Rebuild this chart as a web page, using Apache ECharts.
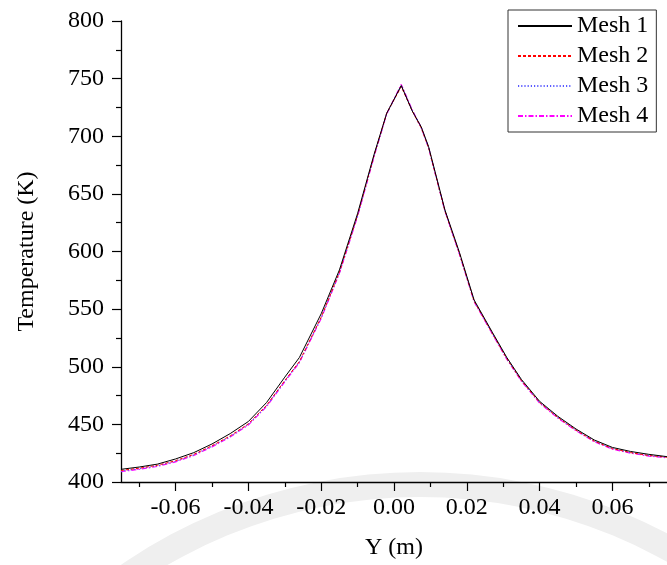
<!DOCTYPE html>
<html>
<head>
<meta charset="utf-8">
<script src="https://cdn.jsdelivr.net/npm/echarts@6/dist/echarts.min.js"></script>
<style>
  html, body { margin: 0; padding: 0; background: #ffffff; }
  #chart { width: 667px; height: 565px; }
</style>
</head>
<body>
<div id="chart"></div>
<script>
// Sampling positions across the domain, Y (m)
const positions = [-0.075, -0.07, -0.065, -0.06, -0.055, -0.05, -0.045, -0.04, -0.035, -0.03,
  -0.026, -0.02, -0.015, -0.01, -0.0055, -0.002, 0.002, 0.005, 0.0075, 0.0095,
  0.014, 0.018, 0.022, 0.027, 0.031, 0.035, 0.04, 0.045, 0.05, 0.055,
  0.06, 0.065, 0.07, 0.075];

// Temperature profiles (K) for each mesh
const mesh1 = [411, 413, 415.5, 420, 425.5, 433, 442, 452.5, 469, 491,
  508, 546, 584, 633, 684, 720, 744, 722, 708, 691,
  636, 599, 558, 530, 508, 489, 470, 457, 446, 436.5,
  430, 426.5, 424, 422];
const mesh2 = [410, 412, 414.5, 418.5, 424, 431.5, 440, 450.5, 466.5, 488,
  504.5, 543, 582, 631.5, 683, 720, 743, 722, 707, 690,
  635, 598, 557, 529, 507, 488, 469, 456, 445, 435.5,
  429, 425.5, 423, 421.5];
const mesh3 = [409.5, 411.5, 414, 418, 423.5, 431, 439.5, 450, 466, 487.5,
  504, 542.5, 581.5, 631, 682.5, 719.5, 744, 722.5, 707, 690,
  635, 598, 557, 529, 507, 488, 469, 456, 445, 435.5,
  429, 425.5, 423, 421.5];
const mesh4 = [409, 411, 413.5, 417.5, 423, 430.5, 439, 449.5, 465.5, 487,
  503.5, 542, 581, 630.5, 682, 719.5, 745, 723, 707.5, 690,
  635, 597.5, 556.5, 528.5, 506.5, 487.5, 468.5, 455.5, 444.5, 435,
  428.5, 425, 422.5, 421];

// Axis ticks
const xMajorTicks = [-0.06, -0.04, -0.02, 0.00, 0.02, 0.04, 0.06];
const xMinorTicks = [-0.07, -0.05, -0.03, -0.01, 0.01, 0.03, 0.05, 0.07];
const seriesNames = ['Mesh 1', 'Mesh 2', 'Mesh 3', 'Mesh 4'];

const FONT = 'Liberation Serif';
const FS = 24;
const pair = (vals) => positions.map((p, i) => [p, vals[i]]);

const chart = echarts.init(document.getElementById('chart'), null, { renderer: 'canvas' });

const xBase = {
  type: 'value', min: -0.075, max: 0.075,
  splitLine: { show: false }
};

chart.setOption({
  animation: false,
  backgroundColor: '#ffffff',
  textStyle: { fontFamily: FONT, color: '#000' },
  graphic: [{
    type: 'ring', silent: true, z: -10,
    shape: { cx: 420, cy: 1000, r: 528, r0: 503 },
    style: { fill: '#efefef' }
  }],
  grid: { left: 121, right: -7, top: 21, bottom: 83, containLabel: false },
  legend: {
    data: seriesNames,
    orient: 'vertical',
    left: 508, top: 10,
    padding: [4, 8, 4, 9],
    itemWidth: 54, itemHeight: 12, itemGap: 6,
    borderColor: '#333', borderWidth: 1,
    backgroundColor: '#fff',
    itemStyle: { opacity: 0 },
    textStyle: { fontFamily: FONT, fontSize: FS, color: '#000' }
  },
  xAxis: [
    Object.assign({}, xBase, {
      name: 'Y (m)', nameLocation: 'middle', nameGap: 54,
      nameTextStyle: { fontFamily: FONT, fontSize: FS, color: '#000' },
      axisLine: { show: true, onZero: false, lineStyle: { color: '#000', width: 1.3 } },
      axisTick: { show: true, length: 9, lineStyle: { color: '#000', width: 1.2 }, customValues: xMajorTicks },
      axisLabel: {
        fontFamily: FONT, fontSize: FS, color: '#000', margin: 14,
        customValues: xMajorTicks,
        formatter: (v) => v.toFixed(2)
      }
    }),
    Object.assign({}, xBase, {
      position: 'bottom',
      axisLine: { show: false, onZero: false },
      axisTick: { show: true, length: 5, lineStyle: { color: '#000', width: 1.2 }, customValues: xMinorTicks },
      axisLabel: { show: false }
    })
  ],
  yAxis: {
    type: 'value', min: 400, max: 800, interval: 50,
    name: 'Temperature (K)', nameLocation: 'middle', nameGap: 82,
    nameTextStyle: { fontFamily: FONT, fontSize: FS, color: '#000' },
    axisLine: { show: true, onZero: false, lineStyle: { color: '#000', width: 1.3 } },
    axisTick: { show: true, length: 9, lineStyle: { color: '#000', width: 1.2 } },
    minorTick: { show: true, splitNumber: 2, length: 5, lineStyle: { color: '#000', width: 1.2 } },
    axisLabel: { fontFamily: FONT, fontSize: FS, color: '#000', margin: 17 },
    splitLine: { show: false }
  },
  series: [
    {
      name: 'Mesh 1', type: 'line', data: pair(mesh1), symbol: 'none', z: 5,
      lineStyle: { color: '#000000', width: 1, type: 'solid' },
      itemStyle: { color: '#000000' }
    },
    {
      name: 'Mesh 2', type: 'line', data: pair(mesh2), symbol: 'none', z: 4,
      lineStyle: { color: '#ff0000', width: 1, type: [3, 2] },
      itemStyle: { color: '#ff0000' }
    },
    {
      name: 'Mesh 3', type: 'line', data: pair(mesh3), symbol: 'none', z: 3,
      lineStyle: { color: '#5a5aff', width: 1.2, type: [1.2, 2] },
      itemStyle: { color: '#5a5aff' }
    },
    {
      name: 'Mesh 4', type: 'line', data: pair(mesh4), symbol: 'none', z: 2,
      lineStyle: { color: '#ff00ff', width: 1.2, type: [5, 2, 1.5, 2] },
      itemStyle: { color: '#ff00ff' }
    }
  ]
});
</script>
</body>
</html>
